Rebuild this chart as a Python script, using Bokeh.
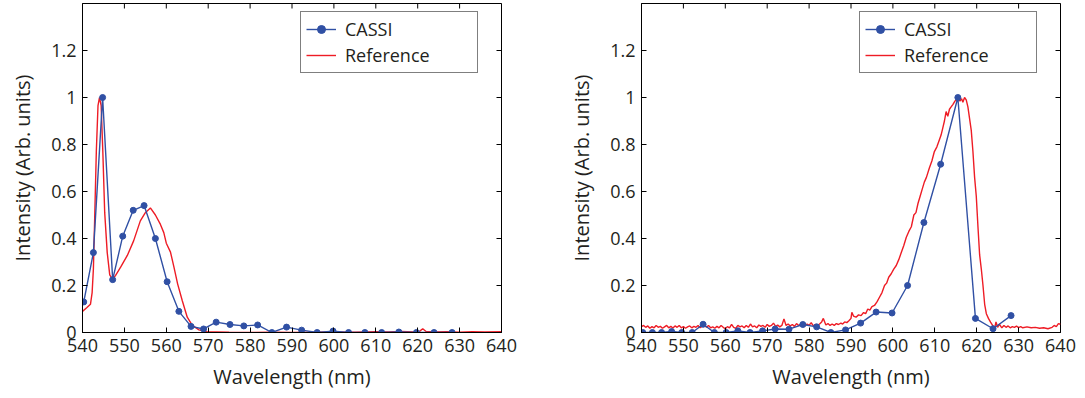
import math
from bokeh.plotting import figure
from bokeh.models import Range1d, FixedTicker, Legend, LegendItem, ColumnDataSource
from bokeh.layouts import row
from bokeh.embed import file_html
from bokeh.resources import INLINE

# ---------------- data ----------------
cassi_wl = [540.3, 542.6, 544.8, 547.2, 549.6, 552.1, 554.7, 557.4, 560.2, 563.0,
            565.9, 568.9, 571.9, 575.2, 578.5, 581.8, 585.2, 588.7, 592.3, 596.0,
            599.8, 603.5, 607.4, 611.4, 615.5, 619.7, 623.9, 628.2]

cassi_left = [0.13, 0.34, 1.0, 0.225, 0.41, 0.52, 0.54, 0.40, 0.216, 0.09,
              0.026, 0.015, 0.044, 0.034, 0.028, 0.032, 0.0, 0.023, 0.01, 0.0,
              0.006, 0.0, 0.0, 0.0, 0.002, 0.0, 0.0, 0.0]

cassi_right = [0.0, 0.0, 0.0, 0.004, 0.0, 0.0, 0.035, 0.0, 0.0, 0.007,
               0.0, 0.007, 0.015, 0.014, 0.034, 0.024, 0.0, 0.011, 0.04, 0.087,
               0.083, 0.20, 0.468, 0.716, 1.0, 0.06, 0.016, 0.072]

ref_left_wl = [540.0, 541.0, 541.9, 542.3, 542.6, 542.9, 543.3, 543.7, 544.05, 544.45,
               544.85, 545.3, 545.9, 546.5, 547.1, 547.9, 549.1, 550.7, 552.2, 553.8,
               555.0, 556.2, 557.4, 558.6, 559.4, 560.0, 561.0, 561.8, 562.7, 563.8,
               565.0, 566.2, 567.8, 569.8, 572.0, 575.0, 580.0, 585.0, 590.0, 595.0,
               600.0, 605.0, 610.0, 613.0, 616.0, 619.0, 620.5, 621.2, 622.0, 624.0,
               627.0, 630.0, 633.0, 636.0, 640.0]
ref_left = [0.09, 0.105, 0.12, 0.17, 0.27, 0.48, 0.77, 0.965, 1.0, 0.965,
            0.77, 0.51, 0.34, 0.245, 0.228, 0.243, 0.278, 0.328, 0.39, 0.475,
            0.51, 0.53, 0.50, 0.46, 0.425, 0.38, 0.342, 0.28, 0.207, 0.136,
            0.065, 0.03, 0.011, 0.002, 0.002, 0.001, 0.0, 0.001, 0.0, 0.001,
            0.002, 0.001, 0.003, 0.002, 0.004, 0.002, 0.006, 0.016, 0.004, 0.002,
            0.003, 0.001, 0.003, 0.002, 0.003]

ref_right_wl = [540.0, 540.5, 541.0, 541.5, 542.0, 542.5, 543.0, 543.5, 544.0, 544.5,
                545.0, 545.5, 546.0, 546.5, 547.0, 547.5, 548.0, 548.5, 549.0, 549.5,
                550.0, 550.5, 551.0, 551.5, 552.0, 552.5, 553.0, 553.5, 554.0, 554.5,
                555.0, 555.5, 556.0, 556.5, 557.0, 557.5, 558.0, 558.5, 559.0, 559.5,
                560.0, 560.5, 561.0, 561.5, 562.0, 562.5, 563.0, 563.5, 564.0, 564.5,
                565.0, 565.5, 566.0, 566.5, 567.0, 567.5, 568.0, 568.5, 569.0, 569.5,
                570.0, 570.5, 571.0, 571.5, 572.0, 572.5, 573.0, 573.5, 574.0, 574.5,
                575.0, 575.5, 576.0, 576.5, 577.0, 577.5, 578.0, 578.5, 579.0, 579.5,
                580.0, 580.5, 581.0, 581.5, 582.0, 582.5, 583.0, 583.4, 584.0, 584.5,
                585.0, 585.5, 586.0, 586.5, 587.0, 587.6, 588.0, 588.5, 589.0, 589.5,
                590.0, 590.2, 590.6, 591.2, 591.8, 592.4, 593.0, 593.5, 594.0, 594.5,
                595.0, 595.6, 596.2, 596.8, 597.4, 598.0, 598.5, 599.0, 599.6, 600.2,
                600.8, 601.4, 602.0, 602.6, 603.2, 603.8, 604.4, 605.0, 605.5, 606.0,
                606.5, 607.0, 607.5, 608.0, 608.7, 609.3, 609.9, 610.5, 611.1, 611.5,
                611.9, 612.3, 612.7, 613.1, 613.5, 613.9, 614.3, 614.8, 615.2, 615.5,
                616.0, 616.4, 616.7, 617.1, 617.5, 617.9, 618.3, 618.7, 619.1, 619.5,
                619.9, 620.3, 620.7, 621.1, 621.5, 621.9, 622.3, 622.8, 623.3, 623.8,
                624.3, 624.6, 625.0, 625.4, 626.0, 626.5, 627.0, 627.5, 628.0, 628.5,
                629.0, 629.5, 630.0, 630.5, 631.0, 632.0, 633.0, 634.0, 635.0, 636.0,
                637.0, 638.0, 638.5, 639.0, 639.5, 640.0]
ref_right = [0.025, 0.03, 0.022, 0.028, 0.018, 0.025, 0.02, 0.03, 0.022, 0.026,
             0.018, 0.024, 0.03, 0.02, 0.026, 0.019, 0.028, 0.022, 0.03, 0.02,
             0.025, 0.018, 0.024, 0.028, 0.02, 0.026, 0.022, 0.03, 0.02, 0.027,
             0.034, 0.022, 0.03, 0.02, 0.024, 0.018, 0.026, 0.02, 0.03, 0.022,
             0.016, 0.025, 0.02, 0.035, 0.022, 0.018, 0.03, 0.024, 0.028, 0.02,
             0.03, 0.022, 0.036, 0.024, 0.028, 0.02, 0.032, 0.026, 0.03, 0.022,
             0.034, 0.026, 0.03, 0.04, 0.026, 0.032, 0.024, 0.03, 0.058, 0.03,
             0.036, 0.028, 0.034, 0.026, 0.038, 0.03, 0.034, 0.04, 0.028, 0.036,
             0.03, 0.042, 0.028, 0.034, 0.03, 0.036, 0.045, 0.06, 0.032, 0.038,
             0.03, 0.036, 0.03, 0.038, 0.034, 0.04, 0.036, 0.045, 0.042, 0.05,
             0.06, 0.086, 0.07, 0.065, 0.075, 0.072, 0.085, 0.08, 0.10, 0.095,
             0.11, 0.115, 0.13, 0.15, 0.17, 0.20, 0.21, 0.235, 0.25, 0.27,
             0.285, 0.31, 0.34, 0.37, 0.405, 0.43, 0.45, 0.50, 0.51, 0.55,
             0.58, 0.61, 0.64, 0.66, 0.70, 0.73, 0.77, 0.79, 0.82, 0.84,
             0.87, 0.90, 0.94, 0.92, 0.95, 0.96, 0.97, 0.985, 0.99, 1.0,
             0.985, 0.995, 0.98, 1.0, 0.99, 0.96, 0.91, 0.86, 0.77, 0.66,
             0.58, 0.45, 0.33, 0.27, 0.20, 0.12, 0.08, 0.06, 0.044, 0.03,
             0.02, 0.045, 0.022, 0.035, 0.02, 0.03, 0.022, 0.028, 0.02, 0.025,
             0.022, 0.027, 0.021, 0.025, 0.02, 0.024, 0.02, 0.022, 0.018, 0.02,
             0.016, 0.022, 0.03, 0.025, 0.038, 0.035]

x_ticks = [540, 550, 560, 570, 580, 590, 600, 610, 620, 630, 640]
y_ticks = [0, 0.2, 0.4, 0.6, 0.8, 1.0, 1.2]
y_tick_labels = {0: "0", 0.2: "0.2", 0.4: "0.4", 0.6: "0.6", 0.8: "0.8", 1.0: "1", 1.2: "1.2"}

X_MIN, X_MAX = 540, 640
Y_MIN, Y_MAX = 0, 1.4

BLUE = "#3050A4"
RED = "#EE1C25"
FONT = "Open Sans"
TXT = "#231F20"


def make_plot(cassi, ref_wl, ref_vals, left_px, right_px):
    p = figure(width=left_px + 419 + right_px, height=398,
               min_border_left=left_px, min_border_right=right_px,
               min_border_top=3, min_border_bottom=66,
               x_range=Range1d(X_MIN, X_MAX), y_range=Range1d(Y_MIN, Y_MAX),
               output_backend="svg", toolbar_location=None)
    p.xgrid.visible = False
    p.ygrid.visible = False
    p.outline_line_color = "black"
    p.outline_line_width = 1
    p.background_fill_color = "white"
    p.border_fill_color = "white"

    for ax in p.xaxis:
        ax.ticker = FixedTicker(ticks=x_ticks)
        ax.axis_label = "Wavelength (nm)"
    for ax in p.yaxis:
        ax.ticker = FixedTicker(ticks=y_ticks)
        ax.major_label_overrides = y_tick_labels
        ax.axis_label = "Intensity (Arb. units)"
    for ax in list(p.xaxis) + list(p.yaxis):
        ax.major_tick_in = 5
        ax.major_tick_out = 0
        ax.minor_tick_line_color = None
        ax.axis_line_color = "black"
        ax.major_tick_line_color = "black"
        ax.major_label_text_font = FONT
        ax.major_label_text_font_size = "18px"
        ax.major_label_text_color = TXT
        ax.axis_label_text_font = FONT
        ax.axis_label_text_font_size = "20px"
        ax.axis_label_text_font_style = "normal"
        ax.axis_label_text_color = TXT
    p.xaxis.major_label_standoff = 6
    p.xaxis.axis_label_standoff = 8
    p.yaxis.major_label_standoff = 6
    p.yaxis.axis_label_standoff = 12

    # mirrored inward ticks on the top and right edges (clipped to the frame)
    p.scatter(x_ticks, [Y_MAX] * len(x_ticks), marker="dash", angle=math.pi / 2,
              size=10, line_color="black", line_width=1)
    p.scatter([X_MAX] * len(y_ticks), y_ticks, marker="dash",
              size=10, line_color="black", line_width=1)

    rl = p.line(ref_wl, ref_vals, line_color=RED, line_width=1.4)
    src = ColumnDataSource(dict(x=cassi_wl, y=cassi))
    cl = p.line("x", "y", source=src, line_color=BLUE, line_width=1.4)
    cs = p.scatter("x", "y", source=src, marker="circle", size=6,
                   fill_color=BLUE, line_color=BLUE)

    legend = Legend(items=[LegendItem(label="CASSI", renderers=[cl, cs]),
                           LegendItem(label="Reference", renderers=[rl])],
                    location=(218, 259),
                    label_text_font=FONT, label_text_font_size="18px",
                    label_text_color=TXT,
                    glyph_width=30, glyph_height=20, label_height=20,
                    label_standoff=9, label_width=127,
                    spacing=2, padding=5, margin=0,
                    border_line_color="black", border_line_width=1,
                    background_fill_color="white", background_fill_alpha=1.0)
    p.add_layout(legend, "center")
    return p


p1 = make_plot(cassi_left, ref_left_wl, ref_left, 82, 58)
p2 = make_plot(cassi_right, ref_right_wl, ref_right, 82, 25)

layout = row(p1, p2)
layout.margin = 0
layout.spacing = 0

html = file_html(layout, INLINE)
with open("out.html", "w") as f:
    f.write(html)
